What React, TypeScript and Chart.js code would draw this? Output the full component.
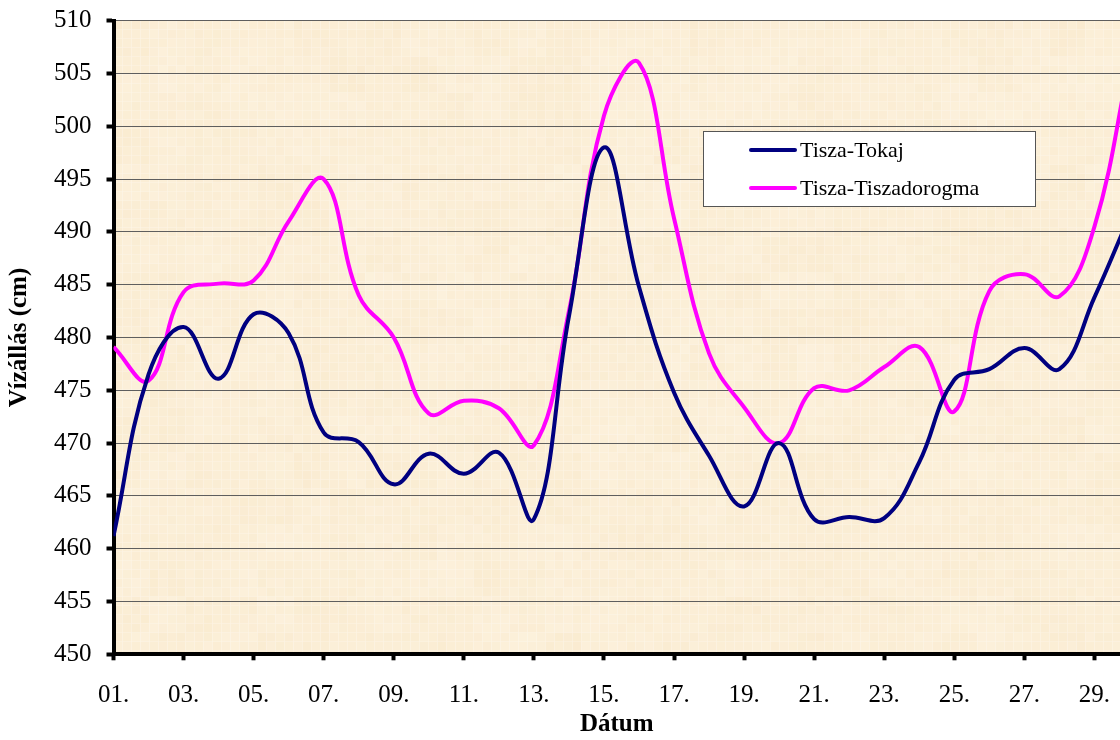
import React, { useEffect, useRef } from 'react';
import { Chart, registerables } from 'chart.js';

Chart.register(...registerables);

const DAYS = [1, 2, 3, 4, 5, 6, 7, 8, 9, 10, 11, 12, 13, 14, 15, 16, 17, 18, 19, 20, 21, 22, 23, 24, 25, 26, 27, 28, 29, 30];
const TOKAJ = [461.2, 476.5, 481.0, 476.1, 482.2, 480.4, 471.0, 470.1, 466.1, 469.0, 467.1, 469.1, 462.8, 482.0, 498.0, 484.8, 474.8, 468.8, 464.0, 470.0, 462.8, 463.0, 462.9, 468.2, 476.0, 477.0, 479.0, 477.0, 483.8, 491.5];
const TISZADOROGMA = [479.1, 475.9, 484.3, 485.1, 485.4, 491.0, 495.0, 484.0, 480.0, 472.8, 474.0, 473.3, 469.8, 482.5, 501.0, 506.0, 491.3, 478.5, 473.4, 470.0, 475.2, 475.0, 477.2, 479.1, 473.0, 484.4, 486.0, 483.9, 490.5, 506.0];
const SERIES_NAMES = ['Tisza-Tokaj', 'Tisza-Tiszadorogma'];
const TICK_DAYS = [1, 3, 5, 7, 9, 11, 13, 15, 17, 19, 21, 23, 25, 27, 29];
const Y_MIN = 450;
const Y_MAX = 510;
const Y_STEP = 5;
const X_MIN = 1;
const X_MAX = 29.73;
const X_TITLE = 'Dátum';
const Y_TITLE = 'Vízállás (cm)';

const FONT = '"Liberation Serif", "Times New Roman", serif';

function hash(i: number, j: number): number {
  let h = (i * 374761393 + j * 668265263) | 0;
  h = Math.imul(h ^ (h >>> 13), 1274126177);
  h = h ^ (h >>> 16);
  return (h >>> 0) / 4294967295;
}

const backgroundPlugin = {
  id: 'parchment',
  beforeDraw(chart: any) {
    const { ctx, chartArea, width, height } = chart;
    ctx.save();
    ctx.fillStyle = '#ffffff';
    ctx.fillRect(0, 0, width, height);
    const left = chartArea.left;
    const top = chartArea.top;
    const right = width;
    const bottom = chartArea.bottom;
    const tile = 9;
    for (let y = top, j = 0; y < bottom; y += tile, j++) {
      for (let x = left, i = 0; x < right; x += tile, i++) {
        const v = hash(i, j) - 0.5;
        const w = hash(Math.floor(i / 4) + 97, Math.floor(j / 4) + 31) - 0.5;
        const t = v * 0.35 + w * 0.35;
        const r = Math.round(251 + t * 4);
        const g = Math.round(238 + t * 8);
        const b = Math.round(214 + t * 16);
        ctx.fillStyle = `rgb(${r},${g},${b})`;
        ctx.fillRect(x, y, Math.min(tile, right - x), Math.min(tile, bottom - y));
      }
    }
    ctx.restore();
  },
};

const legendPlugin = {
  id: 'boxLegend',
  afterDatasetsDraw(chart: any) {
    const { ctx } = chart;
    const bx = 703.5;
    const by = 131.5;
    const bw = 332;
    const bh = 75;
    ctx.save();
    ctx.fillStyle = '#ffffff';
    ctx.fillRect(bx, by, bw, bh);
    ctx.strokeStyle = '#555555';
    ctx.lineWidth = 1;
    ctx.strokeRect(bx, by, bw, bh);
    const rows = [150, 188];
    chart.data.datasets.forEach((ds: any, k: number) => {
      const ry = rows[k];
      ctx.strokeStyle = ds.borderColor;
      ctx.lineWidth = 4;
      ctx.lineCap = 'round';
      ctx.beginPath();
      ctx.moveTo(751, ry);
      ctx.lineTo(795, ry);
      ctx.stroke();
      ctx.fillStyle = '#000000';
      ctx.font = `22px ${FONT}`;
      ctx.textBaseline = 'middle';
      ctx.textAlign = 'left';
      ctx.fillText(ds.label, 800, ry + 1);
    });
    ctx.restore();
  },
};

export default function App() {
  const canvasRef = useRef<HTMLCanvasElement | null>(null);

  useEffect(() => {
    document.body.style.margin = '0';
    const canvas = canvasRef.current;
    if (!canvas) return;
    const chart = new Chart(canvas, {
      type: 'line',
      data: {
        datasets: [
          {
            label: SERIES_NAMES[0],
            data: DAYS.map((d, i) => ({ x: d, y: TOKAJ[i] })),
            borderColor: '#000080',
            backgroundColor: '#000080',
            borderWidth: 4,
            pointRadius: 0,
            tension: 0.4,
            fill: false,
          },
          {
            label: SERIES_NAMES[1],
            data: DAYS.map((d, i) => ({ x: d, y: TISZADOROGMA[i] })),
            borderColor: '#ff00ff',
            backgroundColor: '#ff00ff',
            borderWidth: 4,
            pointRadius: 0,
            tension: 0.4,
            fill: false,
          },
        ],
      },
      options: {
        responsive: false,
        animation: false,
        devicePixelRatio: 1,
        layout: { padding: { top: 20.7, right: 0, bottom: 0, left: 0 } },
        plugins: {
          legend: { display: false },
          tooltip: { enabled: false },
        },
        scales: {
          x: {
            type: 'linear',
            min: X_MIN,
            max: X_MAX,
            afterBuildTicks: (scale: any) => {
              scale.ticks = TICK_DAYS.map((v) => ({ value: v }));
            },
            afterFit: (scale: any) => {
              scale.height = 85.7;
              scale.paddingLeft = 0;
              scale.paddingRight = 0;
            },
            grid: {
              drawOnChartArea: false,
              drawTicks: true,
              tickLength: 6,
              tickWidth: 4,
              tickColor: '#000000',
            },
            border: { display: true, color: '#000000', width: 4 },
            ticks: {
              autoSkip: false,
              maxRotation: 0,
              padding: 20,
              color: '#000000',
              font: { family: FONT, size: 25 },
              callback: (v: any) => String(v).padStart(2, '0') + '.',
            },
            title: {
              display: true,
              text: X_TITLE,
              color: '#000000',
              font: { family: FONT, size: 25, weight: 'bold' },
              padding: { top: 0, bottom: 0 },
            },
          },
          y: {
            type: 'linear',
            min: Y_MIN,
            max: Y_MAX,
            afterFit: (scale: any) => {
              scale.width = 113.5;
              scale.paddingTop = 0;
              scale.paddingBottom = 0;
            },
            grid: {
              color: '#5e5e5e',
              lineWidth: 1,
              drawTicks: true,
              tickLength: 7,
              tickWidth: 4,
              tickColor: '#000000',
            },
            border: { display: true, color: '#000000', width: 4 },
            ticks: {
              stepSize: Y_STEP,
              padding: 15,
              color: '#000000',
              font: { family: FONT, size: 25 },
            },
            title: {
              display: true,
              text: Y_TITLE,
              color: '#000000',
              font: { family: FONT, size: 25, weight: 'bold' },
              padding: { top: 5, bottom: 0 },
            },
          },
        },
      },
      plugins: [backgroundPlugin, legendPlugin],
    } as any);
    return () => {
      chart.destroy();
    };
  }, []);

  return (
    <div style={{ width: 1120, height: 740, overflow: 'hidden' }}>
      <canvas ref={canvasRef} width={1120} height={740} style={{ display: 'block' }} />
    </div>
  );
}
